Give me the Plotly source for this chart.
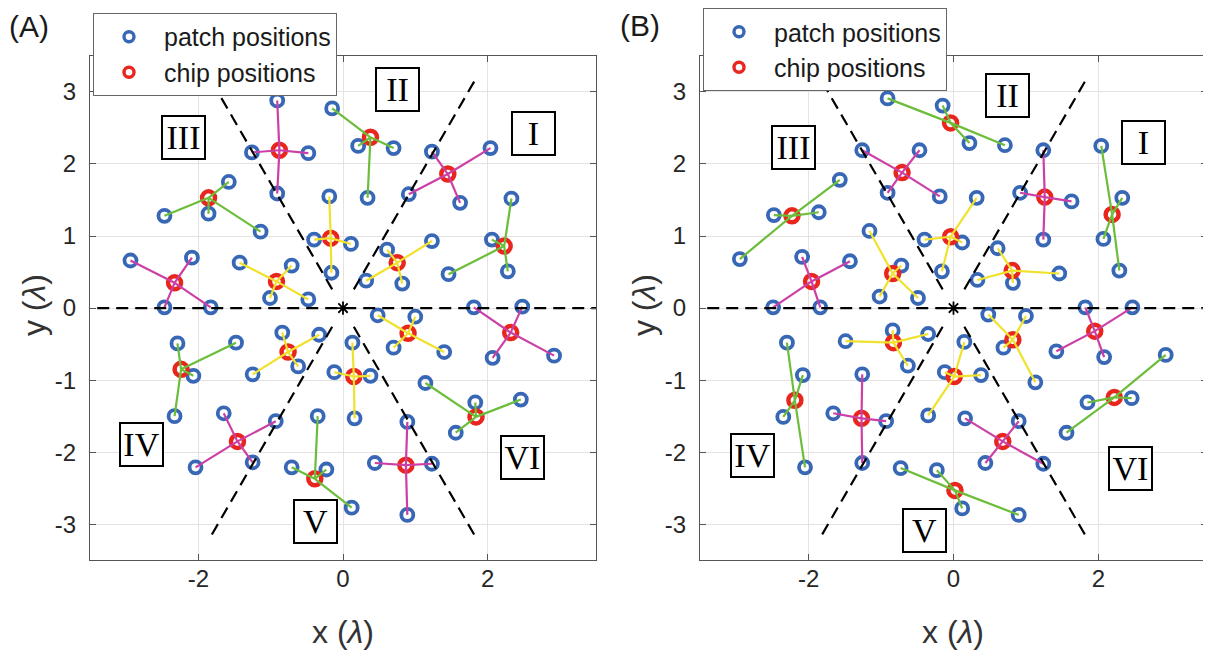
import math
import plotly.graph_objects as go

# ---------------- data ----------------
# Panel A: chip positions, ring of each chip group, and 4 patches per chip
A_chip_x = [-0.88, 0.38, 1.45, -1.86, -0.17, 0.75, 2.23, -2.33, -0.92,
            -0.76, -2.24, 0.15, 0.90, 2.32, 1.84, -1.46, -0.39, 0.87]
A_chip_y = [2.19, 2.37, 1.86, 1.53, 0.97, 0.63, 0.86, 0.35, 0.37,
            -0.61, -0.85, -0.95, -0.35, -0.34, -1.51, -1.85, -2.37, -2.18]
A_ring = ["outer", "middle", "outer", "middle", "inner", "inner", "middle", "outer", "inner",
          "inner", "middle", "inner", "inner", "outer", "middle", "outer", "middle", "outer"]
A_patch_x = [[-0.91, -1.26, -0.48, -0.91], [-0.15, 0.21, 0.70, 0.34], [1.23, 2.04, 0.91, 1.62],
             [-1.58, -2.47, -1.86, -1.14], [-0.19, -0.40, -0.16, 0.11], [0.61, 1.23, 0.32, 0.82],
             [2.06, 2.33, 1.46, 2.28], [-2.94, -2.09, -2.47, -1.83], [-1.43, -0.71, -1.01, -0.48],
             [-0.84, -0.33, -1.25, -0.62], [-2.29, -1.48, -2.07, -2.33], [0.13, 0.38, 0.16, -0.12],
             [0.48, 1.00, 0.70, 1.40], [1.81, 2.48, 2.07, 2.92], [1.14, 1.83, 2.46, 1.56],
             [-1.65, -0.93, -2.04, -1.25], [-0.35, -0.71, -0.23, 0.12], [0.89, 0.44, 1.23, 0.89]]
A_patch_y = [[2.88, 2.16, 2.15, 1.59], [2.77, 2.25, 2.22, 1.53], [2.17, 2.22, 1.58, 1.46],
             [1.75, 1.28, 1.31, 1.06], [1.55, 0.95, 0.49, 0.89], [0.81, 0.93, 0.38, 0.34],
             [0.95, 1.52, 0.47, 0.51], [0.66, 0.70, 0.01, 0.01], [0.63, 0.59, 0.14, 0.12],
             [-0.34, -0.37, -0.92, -0.81], [-0.49, -0.48, -0.94, -1.50], [-0.48, -0.94, -1.53, -0.89],
             [-0.10, -0.12, -0.55, -0.61], [0.01, 0.02, -0.69, -0.66], [-1.04, -1.31, -1.27, -1.73],
             [-1.46, -1.57, -2.21, -2.14], [-1.50, -2.21, -2.24, -2.77], [-1.58, -2.15, -2.16, -2.87]]

# Panel B
B_chip_x = [-0.04, -0.71, -2.23, -1.96, -0.84, -0.04, 1.26, 2.19, 0.81,
            -2.19, -0.83, -1.27, 0.01, 0.82, 1.95, 2.22, 0.68, 0.02]
B_chip_y = [2.57, 1.88, 1.28, 0.37, 0.48, 0.99, 1.54, 1.30, 0.52,
            -1.28, -0.48, -1.53, -0.95, -0.44, -0.32, -1.24, -1.85, -2.53]
B_ring = ["middle", "outer", "middle", "outer", "inner", "inner", "outer", "middle", "inner",
          "middle", "inner", "outer", "inner", "inner", "outer", "middle", "outer", "middle"]
B_patch_x = [[-0.91, -0.15, 0.22, 0.71], [-1.26, -0.47, -0.91, -0.19], [-2.48, -1.86, -1.57, -2.95],
             [-2.09, -1.43, -2.49, -1.84], [-1.16, -0.72, -1.02, -0.49], [-0.40, -0.16, 0.32, 0.12],
             [1.24, 0.92, 1.63, 1.24], [2.04, 2.33, 2.07, 2.29], [0.61, 1.46, 0.33, 0.82],
             [-2.30, -2.08, -2.35, -2.05], [-0.84, -1.49, -0.35, -0.63], [-1.26, -1.66, -0.93, -1.26],
             [0.15, 0.38, -0.12, -0.35], [0.48, 1.00, 0.69, 1.13], [1.82, 2.47, 1.42, 2.08],
             [1.85, 2.46, 2.93, 1.56], [0.16, 0.90, 0.44, 1.24], [-0.73, -0.23, 0.12, 0.90]]
B_patch_y = [[2.91, 2.81, 2.29, 2.26], [2.19, 2.19, 1.60, 1.55], [1.29, 1.33, 1.78, 0.68],
             [0.71, 0.65, 0.01, 0.01], [1.07, 0.59, 0.16, 0.14], [0.95, 0.51, 1.53, 0.91],
             [2.19, 1.60, 1.48, 0.95], [2.25, 1.53, 0.96, 0.52], [0.83, 0.48, 0.39, 0.35],
             [-0.48, -0.93, -1.51, -2.21], [-0.31, -0.46, -0.36, -0.80], [-0.92, -1.46, -1.57, -2.15],
             [-0.47, -0.93, -0.89, -1.49], [-0.09, -0.11, -0.55, -1.03], [0.01, 0.01, -0.60, -0.68],
             [-1.31, -1.25, -0.65, -1.73], [-1.53, -1.57, -2.15, -2.16], [-2.22, -2.25, -2.78, -2.87]]

sector_labels = ["I", "II", "III", "IV", "V", "VI"]
A_label_x = [2.64, 0.76, -2.21, -2.79, -0.38, 2.49]
A_label_y = [2.42, 3.03, 2.37, -1.89, -2.96, -2.07]
B_label_x = [2.62, 0.74, -2.21, -2.77, -0.40, 2.45]
B_label_y = [2.30, 2.95, 2.23, -2.04, -3.09, -2.22]

boundary_angles_deg = [60, 120, 240, 300]
boundary_r = [0.3, 3.66]

x_ticks = [-2, 0, 2]
x_tick_text = ["-2", "0", "2"]
y_ticks = [-3, -2, -1, 0, 1, 2, 3]
y_tick_text = ["-3", "-2", "-1", "0", "1", "2", "3"]

# ---------------- styling ----------------
BLUE = "#3767b5"
RED = "#e8261e"
RING_COLOR = {"outer": "#cc3fa6", "middle": "#6cbd3a", "inner": "#f0e22c"}
SANS = "Liberation Sans, Arial, sans-serif"
SERIF = "Liberation Serif, Times New Roman, serif"
W, H = 1203, 644          # page body has an 8 px margin
OFF = 8                   # so screen px = figure px + 8


def fx(p):   # screen px -> paper x
    return (p - OFF) / W


def fy(p):   # screen px -> paper y
    return 1 - (p - OFF) / H


fig = go.Figure()


def add_panel(xa, ya, chip_x, chip_y, ring, patch_x, patch_y, legend_name):
    px = [v for g in patch_x for v in g]
    py = [v for g in patch_y for v in g]
    fig.add_trace(go.Scatter(x=px, y=py, mode="markers", xaxis=xa, yaxis=ya, showlegend=False,
                             marker=dict(symbol="circle-open", size=12, color=BLUE,
                                         line=dict(width=3.8, color=BLUE)), hoverinfo="skip"))
    fig.add_trace(go.Scatter(x=chip_x, y=chip_y, mode="markers", xaxis=xa, yaxis=ya, showlegend=False,
                             marker=dict(symbol="circle-open", size=13, color=RED,
                                         line=dict(width=4.5, color=RED)), hoverinfo="skip"))
    for rname, col in RING_COLOR.items():
        lx, ly = [], []
        for i in range(len(chip_x)):
            if ring[i] != rname:
                continue
            for j in range(len(patch_x[i])):
                lx += [chip_x[i], patch_x[i][j], None]
                ly += [chip_y[i], patch_y[i][j], None]
        fig.add_trace(go.Scatter(x=lx, y=ly, mode="lines", xaxis=xa, yaxis=ya, showlegend=False,
                                 line=dict(color=col, width=2.2), hoverinfo="skip"))
    fig.add_trace(go.Scatter(x=[-3.4, 3.7], y=[0, 0], mode="lines", xaxis=xa, yaxis=ya,
                             showlegend=False, line=dict(color="black", width=2.2, dash="12px,7px"),
                             hoverinfo="skip"))
    dx, dy = [], []
    for a in boundary_angles_deg:
        t = math.radians(a)
        dx += [boundary_r[0] * math.cos(t), boundary_r[1] * math.cos(t), None]
        dy += [boundary_r[0] * math.sin(t), boundary_r[1] * math.sin(t), None]
    fig.add_trace(go.Scatter(x=dx, y=dy, mode="lines", xaxis=xa, yaxis=ya, showlegend=False,
                             line=dict(color="black", width=2.2, dash="12px,7px"), hoverinfo="skip"))
    fig.add_trace(go.Scatter(x=[0], y=[0], mode="markers", xaxis=xa, yaxis=ya, showlegend=False,
                             marker=dict(symbol="asterisk-open", size=11, color="black",
                                         line=dict(width=1.8, color="black")), hoverinfo="skip"))
    fig.add_trace(go.Scatter(x=[None], y=[None], mode="markers", xaxis=xa, yaxis=ya,
                             name="patch positions", legend=legend_name,
                             marker=dict(symbol="circle-open", size=10, color=BLUE,
                                         line=dict(width=3.4, color=BLUE))))
    fig.add_trace(go.Scatter(x=[None], y=[None], mode="markers", xaxis=xa, yaxis=ya,
                             name="chip positions", legend=legend_name,
                             marker=dict(symbol="circle-open", size=10, color=RED,
                                         line=dict(width=3.4, color=RED))))


add_panel("x", "y", A_chip_x, A_chip_y, A_ring, A_patch_x, A_patch_y, "legend")
add_panel("x2", "y2", B_chip_x, B_chip_y, B_ring, B_patch_x, B_patch_y, "legend2")

y_dom = [fy(560), fy(54)]
common = dict(range=[-3.5, 3.5], showgrid=True, gridcolor="#e6e2e2", gridwidth=1, zeroline=False,
              showline=True, linecolor="#555555", linewidth=1, mirror="ticks", ticks="inside",
              ticklen=6, tickcolor="#555555", tickfont=dict(family=SANS, size=24, color="#262626"),
              fixedrange=True)
xcommon = dict(tickvals=x_ticks, ticktext=x_tick_text, ticklabelstandoff=-3, **common)
ycommon = dict(tickvals=y_ticks, ticktext=y_tick_text, ticklabelstandoff=8, **common)
leg = dict(xanchor="left", yanchor="top", bgcolor="white", bordercolor="#666666", borderwidth=1,
           font=dict(family=SANS, size=25, color="#1a1a1a"), itemwidth=60, tracegroupgap=0)

fig.update_layout(
    width=W, height=H, autosize=False,
    margin=dict(l=0, r=0, t=0, b=0),
    paper_bgcolor="white", plot_bgcolor="white",
    xaxis=dict(domain=[fx(90), fx(596)], anchor="y", **xcommon),
    yaxis=dict(domain=y_dom, anchor="x", **ycommon),
    xaxis2=dict(domain=[fx(700), fx(1207)], anchor="y2", **xcommon),
    yaxis2=dict(domain=y_dom, anchor="x2", **ycommon),
    legend=dict(x=fx(93), y=fy(11), **leg),
    legend2=dict(x=fx(703), y=fy(6), **leg),
    showlegend=True,
)

annotations = []
for xr, yr, lx, ly in [("x", "y", A_label_x, A_label_y), ("x2", "y2", B_label_x, B_label_y)]:
    for t, x, y in zip(sector_labels, lx, ly):
        annotations.append(dict(x=x, y=y, xref=xr, yref=yr, text=t, showarrow=False,
                                xanchor="center", yanchor="middle",
                                font=dict(family=SERIF, size=34, color="black"),
                                width=39, height=39, borderpad=1, borderwidth=2,
                                bordercolor="black", bgcolor="white", align="center", valign="middle"))

for txt, xc, yc in [("(A)", 29, 25), ("(B)", 640, 24)]:
    annotations.append(dict(x=fx(xc), y=fy(yc), xref="paper", yref="paper", text=txt,
                            xanchor="center", yanchor="middle", showarrow=False,
                            font=dict(family=SANS, size=30, color="#1a1a1a")))
for xc in [343, 953]:
    annotations.append(dict(x=fx(xc), y=fy(632), xref="paper", yref="paper",
                            text="x (<i>λ</i>)", showarrow=False, xanchor="center", yanchor="middle",
                            font=dict(family=SANS, size=32, color="#333333")))
for xc in [34, 644]:
    annotations.append(dict(x=fx(xc), y=fy(304), xref="paper", yref="paper",
                            text="y (<i>λ</i>)", showarrow=False, textangle=-90,
                            xanchor="center", yanchor="middle",
                            font=dict(family=SANS, size=32, color="#333333")))
fig.update_layout(annotations=annotations)

fig.write_html("out.html")
